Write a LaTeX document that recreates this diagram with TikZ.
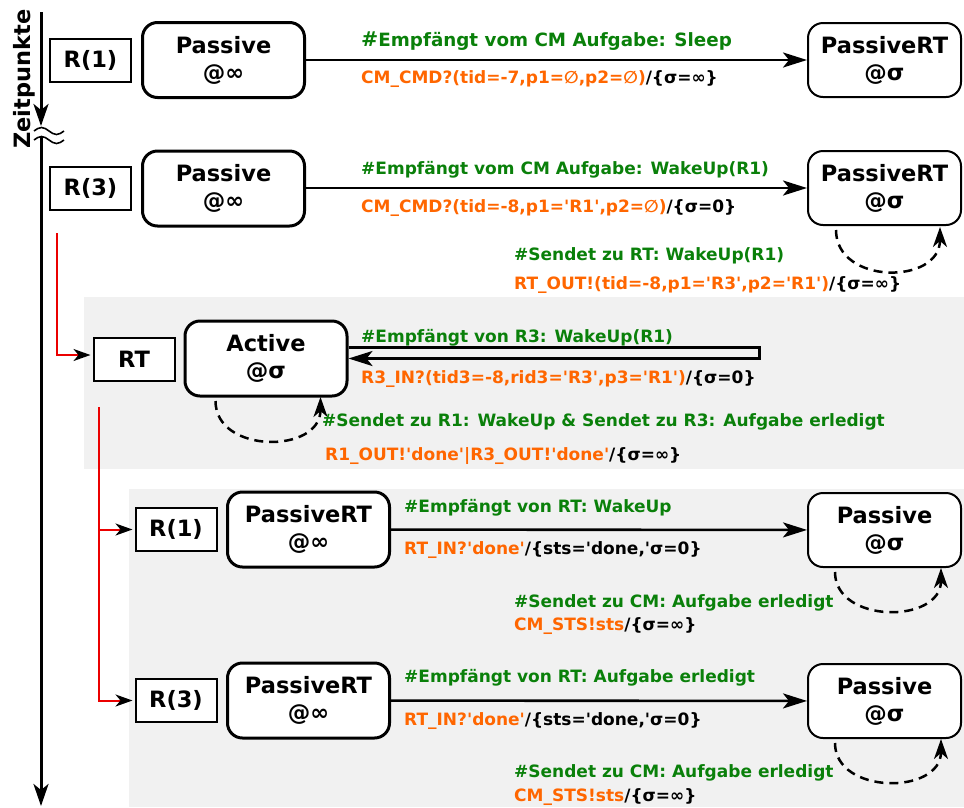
\documentclass[tikz,border=0pt]{standalone}
\usepackage{fontspec}
\setmainfont{DejaVu Sans}[Ligatures=TeXOff]
\usetikzlibrary{arrows.meta,calc}
\definecolor{grn}{RGB}{10,128,10}
\definecolor{org}{RGB}{255,102,0}
\definecolor{bgc}{RGB}{241,241,241}
\definecolor{redl}{RGB}{235,0,0}
\begin{document}
\begin{tikzpicture}[x=1pt,y=-1pt,
  bigf/.style={font=\fontsize{22.5}{27}\selectfont\bfseries},
  smallf/.style={font=\fontsize{17}{20}\selectfont\bfseries},
  stbox/.style={draw,rounded corners=15pt,line width=3pt,fill=white,minimum width=162pt,minimum height=75pt,align=center,inner sep=0pt,bigf},
  stthin/.style={stbox,line width=2pt,minimum width=153pt,minimum height=74pt},
  lbox/.style={draw,line width=2pt,fill=white,minimum width=81pt,minimum height=43pt,inner sep=0pt,bigf},
  grl/.style={smallf,text=grn,anchor=base west,inner sep=0pt},
  orl/.style={smallf,text=black,anchor=base west,inner sep=0pt},
  arr/.style={line width=2.6pt,-{Stealth[length=24pt,width=15pt,inset=6pt]}},
  tline/.style={line width=3pt,-{Stealth[length=22pt,width=15pt,inset=6pt]}},
  dloop/.style={line width=2.5pt,dash pattern=on 9pt off 6pt,-{Stealth[length=20pt,width=14pt,inset=6pt]}},
  redarr/.style={draw=redl,line width=2pt,shorten >=2pt,-{Stealth[length=17pt,width=12pt,inset=5pt,black]}},
]
\useasboundingbox (0,0) rectangle (964,807);
% backgrounds
\fill[bgc] (84,297) rectangle (964,469);
\fill[bgc] (129,489) rectangle (964,807);

% timeline
\coordinate (tl0) at (41,12);
\coordinate (tl1) at (41,126);
\coordinate (tl2) at (41,137);
\coordinate (tl3) at (41,806);
\draw[tline] (tl0) -- (tl1);
\draw[tline] (tl2) -- (tl3);
\draw[line width=1.6pt] (34,131) sin (41.5,127.5) cos (49,131) sin (56.5,134.5) cos (64,131);
\draw[line width=1.6pt] (34,140) sin (41.5,136.5) cos (49,140) sin (56.5,143.5) cos (64,140);
\node[bigf,rotate=90,anchor=base,inner sep=0pt] (zp) at (30,79) {Zeitpunkte};

% row 1
\node[lbox] (r1) at (90.5,60) {R(1)};
\node[stbox] (p1) at (223.5,60) {Passive\\@∞};
\node[stthin] (prt1) at (884.5,60) {PassiveRT\\@σ};
\draw[arr] (p1) -- (prt1);
\node[grl,font=\fontsize{18.3}{20}\selectfont\bfseries] (g1) at (361,46) {{\fontsize{20.5}{20}\selectfont\#}Empfängt vom CM Aufgabe: Sleep};
\node[orl] (o1) at (361,83) {{\color{org}CM\_CMD?(tid=-7,p1=∅,p2=∅)}/\{σ=∞\}};

% row 2
\node[lbox] (r3) at (90.5,188.5) {R(3)};
\node[stbox] (p2) at (223.5,188.5) {Passive\\@∞};
\node[stthin] (prt2) at (884.5,188) {PassiveRT\\@σ};
\draw[arr] (p2.east |- prt2.west) -- (prt2.west);
\node[grl] (g2) at (361,174) {\#Empfängt vom CM Aufgabe: WakeUp(R1)};
\node[orl] (o2) at (361,212) {{\color{org}CM\_CMD?(tid=-8,p1='R1',p2=∅)}/\{σ=0\}};
\draw[dloop] ([xshift=29pt,yshift=-4pt]prt2.south west) .. controls +(0,55) and +(0,58) .. ([xshift=133pt,yshift=-1pt]prt2.south west);
\node[grl] (g3) at (514,260) {\#Sendet zu RT: WakeUp(R1)};
\node[orl] (o3) at (514,289) {{\color{org}RT\_OUT!(tid=-8,p1='R3',p2='R1')}/\{σ=∞\}};

% RT section
\node[lbox] (rt) at (134,359) {RT};
\node[stbox] (act) at (266,358.5) {Active\\@σ};
\coordinate (ra) at (57,233);
\draw[redarr] (ra) |- ([yshift=4pt]rt.west);
\draw[arr] ([yshift=11pt]act.east) -- ++(411,0) |- (act.east);
\node[grl] (g4) at (361,342) {\#Empfängt von R3: WakeUp(R1)};
\node[orl] (o4) at (361,383) {{\color{org}R3\_IN?(tid3=-8,rid3='R3',p3='R1')}/\{σ=0\}};
\draw[dloop] ([xshift=32pt,yshift=-3.5pt]act.south west) .. controls +(0,53) and +(0,57) .. ([xshift=137pt,yshift=0.5pt]act.south west);
\node[grl] (g5) at (322,426) {\#Sendet zu R1: WakeUp \& Sendet zu R3: Aufgabe erledigt};
\node[orl] (o5) at (325,460) {{\color{org}R1\_OUT!'done'|R3\_OUT!'done'}/\{σ=∞\}};

% bottom section
\coordinate (rb) at (99,407);
\node[lbox] (r1b) at (176,529.5) {R(1)};
\node[stbox] (prtb1) at (308.5,529.5) {PassiveRT\\@∞};
\node[stthin] (pb1) at (884.5,530) {Passive\\@σ};
\draw[redarr] (rb) |- (r1b.west);
\draw[arr] (prtb1) -- (pb1);
\node[grl] (g6) at (404,512) {\#Empfängt von RT: WakeUp};
\node[orl] (o6) at (404,554) {{\color{org}RT\_IN?'done'}/\{sts='done,'σ=0\}};
\draw[dloop] ([xshift=28pt,yshift=-4pt]pb1.south west) .. controls +(0,52) and +(0,56) .. ([xshift=134pt,yshift=0pt]pb1.south west);
\node[grl] (g7) at (514,607) {\#Sendet zu CM: Aufgabe erledigt};
\node[orl] (o7) at (514,630) {{\color{org}CM\_STS!sts}/\{σ=∞\}};

\node[lbox] (r3b) at (176,700.5) {R(3)};
\node[stbox] (prtb3) at (308.5,700.5) {PassiveRT\\@∞};
\node[stthin] (pb3) at (884.5,701) {Passive\\@σ};
\draw[redarr] (rb) |- (r3b.west);
\draw[arr] (prtb3) -- (pb3);
\node[grl] (g8) at (404,682) {\#Empfängt von RT: Aufgabe erledigt};
\node[orl] (o8) at (404,725) {{\color{org}RT\_IN?'done'}/\{sts='done,'σ=0\}};
\draw[dloop] ([xshift=28pt,yshift=-4pt]pb3.south west) .. controls +(0,52) and +(0,56) .. ([xshift=134pt,yshift=0pt]pb3.south west);
\node[grl] (g9) at (514,777) {\#Sendet zu CM: Aufgabe erledigt};
\node[orl] (o9) at (514,801) {{\color{org}CM\_STS!sts}/\{σ=∞\}};
\end{tikzpicture}
\end{document}
